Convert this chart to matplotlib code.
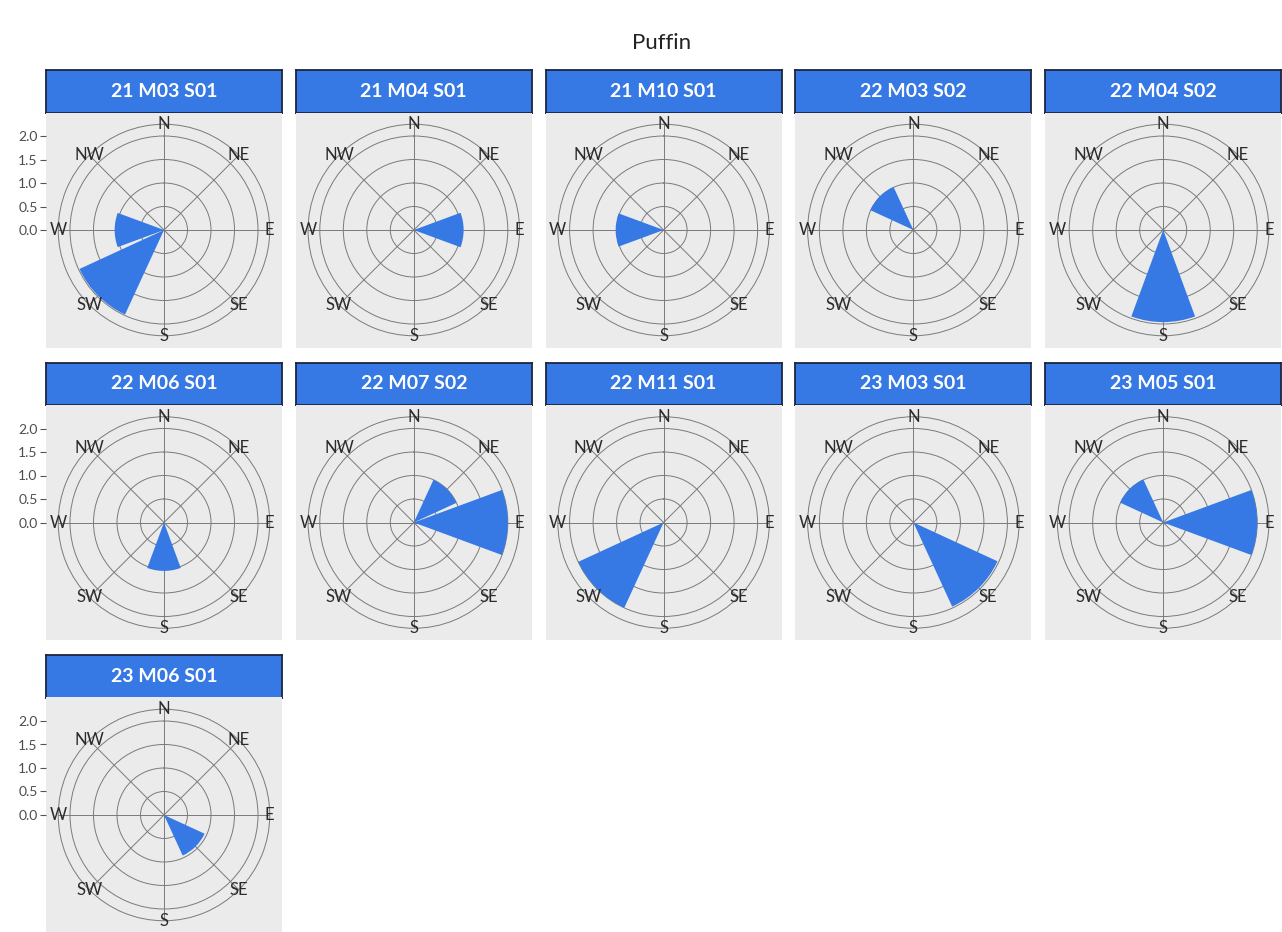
import numpy as np
import matplotlib.pyplot as plt

plt.rcParams['font.family'] = ['Lato', 'DejaVu Sans']

# ---- data -------------------------------------------------------------
panel_labels = ['21 M03 S01', '21 M04 S01', '21 M10 S01', '22 M03 S02', '22 M04 S02',
                '22 M06 S01', '22 M07 S02', '22 M11 S01', '23 M03 S01', '23 M05 S01',
                '23 M06 S01']
directions = ['N', 'NE', 'E', 'SE', 'S', 'SW', 'W', 'NW']
bar_dirs = [['W', 'SW'], ['E'], ['W'], ['NW'], ['S'],
            ['S'], ['NE', 'E'], ['SW'], ['SE'], ['NW', 'E'],
            ['SE']]
bar_values = [[1.05, 1.98], [1.06], [1.02], [1.01], [1.96],
              [1.03], [1.0, 2.0], [2.0], [1.97], [1.01, 2.0],
              [0.95]]
r_ticks = [0.0, 0.5, 1.0, 1.5, 2.0]

# ---- layout (pixels) --------------------------------------------------
W, H = 1282, 932
blue = '#3679E5'
panel_bg = '#EBEBEB'
grid_col = '#7a7a7a'


def frac(x, y, w, h):
    return [x / W, 1 - (y + h) / H, w / W, h / H]


fig = plt.figure(figsize=(W / 100, H / 100), dpi=100)
fig.text(662 / W, 1 - 43 / H, 'Puffin', ha='center', va='center', fontsize=16, color='#222222')

step = 45.0
for k, label in enumerate(panel_labels):
    row, col = divmod(k, 5)
    x0 = 46 + col * 249.8
    y0 = 70 + row * 292.5
    strip_h, pw, ph = 42.5, 236, 235

    # strip
    sax = fig.add_axes(frac(x0, y0, pw, strip_h))
    sax.set_facecolor(blue)
    sax.set_xticks([])
    sax.set_yticks([])
    for s in sax.spines.values():
        s.set_color('#1c2440')
        s.set_linewidth(1.3)
    sax.text(0.5, 0.5, label, transform=sax.transAxes, ha='center', va='center',
             color='white', fontsize=14, fontweight='bold')

    # grey panel (also carries the r axis on the first column)
    bg = fig.add_axes(frac(x0, y0 + strip_h, pw, ph))
    bg.set_facecolor(panel_bg)
    bg.set_xlim(-2.5, 2.5)
    bg.set_ylim(-2.5, 2.5)
    bg.set_xticks([])
    for s in bg.spines.values():
        s.set_visible(False)
    if col == 0:
        bg.set_yticks(r_ticks)
        bg.set_yticklabels([f'{v:.1f}' for v in r_ticks])
        bg.tick_params(axis='y', length=4, width=0.8, color='#555555',
                       labelsize=10, labelcolor='#4d4d4d', pad=2)
    else:
        bg.set_yticks([])

    # polar rose
    pad = 0.05 * ph
    ax = fig.add_axes(frac(x0 + pad, y0 + strip_h + pad, pw - 2 * pad, ph - 2 * pad),
                      projection='polar')
    ax.set_facecolor('none')
    ax.set_theta_zero_location('N')
    ax.set_theta_direction(-1)
    ax.set_ylim(0, 2.25)
    ax.set_xticks(np.deg2rad(np.arange(8) * step))
    ax.set_xticklabels([])
    ax.set_yticks([0.5, 1.0, 1.5, 2.0])
    ax.set_yticklabels([])
    ax.grid(True, color=grid_col, linewidth=0.7)
    ax.spines['polar'].set_color(grid_col)
    ax.spines['polar'].set_linewidth(0.7)
    ax.set_axisbelow(True)

    theta = [np.deg2rad(directions.index(d) * step) for d in bar_dirs[k]]
    ax.bar(theta, bar_values[k], width=np.deg2rad(step * 0.9), bottom=0,
           color=blue, edgecolor='none', zorder=3)

    for i, d in enumerate(directions):
        ax.text(np.deg2rad(i * step), 2.25, d, ha='center', va='center',
                fontsize=12, color='#2b2b2b', clip_on=False, zorder=4)

fig.savefig('out.png', dpi=100)
